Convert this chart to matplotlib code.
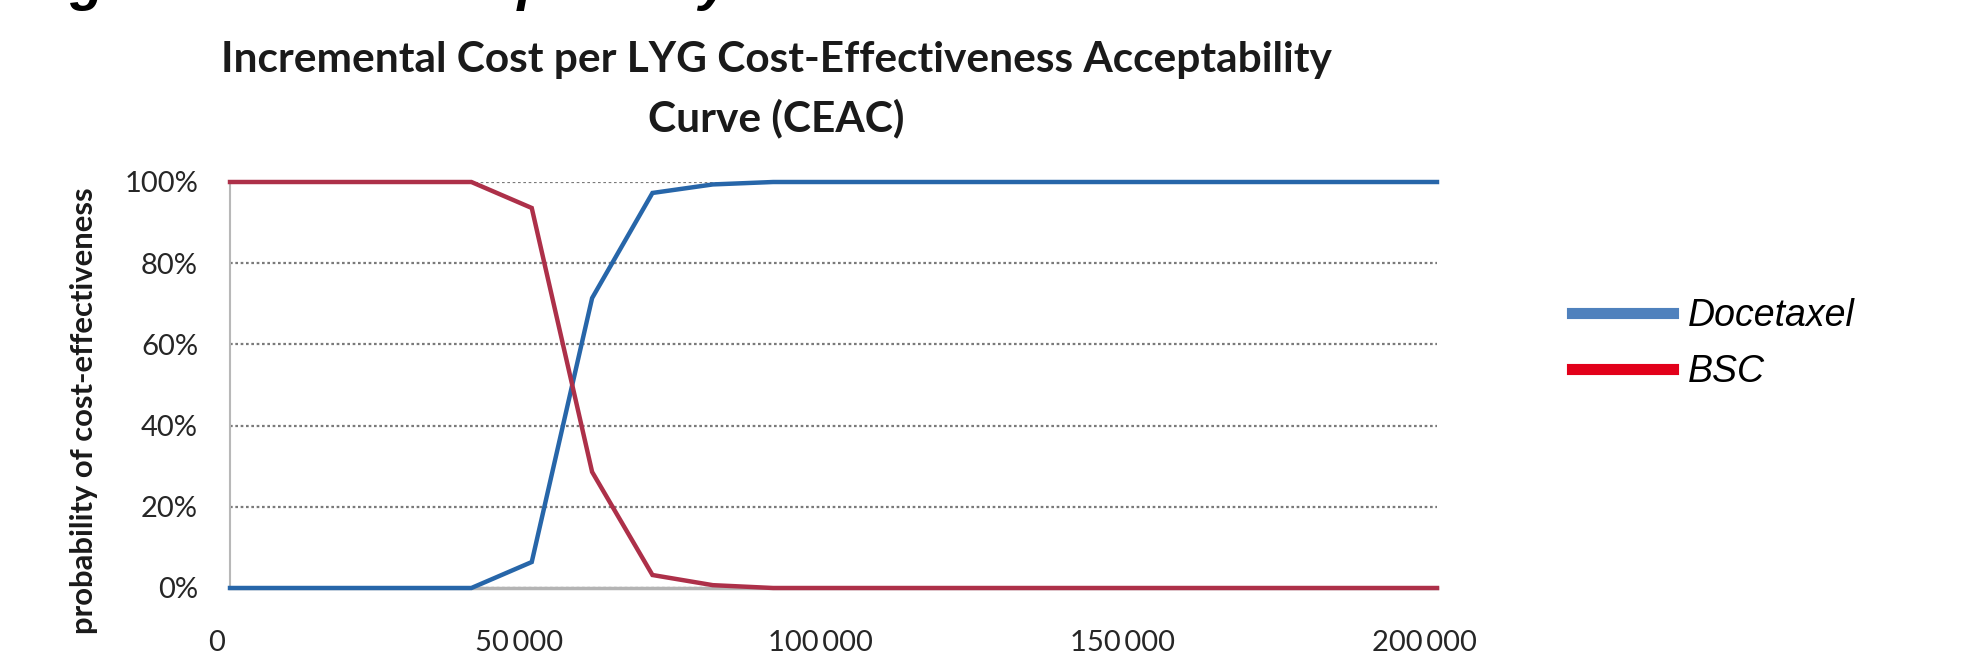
import matplotlib
matplotlib.use("Agg")
import matplotlib.pyplot as plt
import matplotlib.transforms as mtransforms
from matplotlib.lines import Line2D
from matplotlib.ticker import FuncFormatter

# ---- data ----
wtp = [0, 10000, 20000, 30000, 40000, 50000, 60000, 70000, 80000, 90000,
       100000, 110000, 120000, 130000, 140000, 150000, 160000, 170000,
       180000, 190000, 200000]
docetaxel = [0.0, 0.0, 0.0, 0.0, 0.0, 0.064, 0.714, 0.973, 0.994, 1.0,
             1.0, 1.0, 1.0, 1.0, 1.0, 1.0, 1.0, 1.0, 1.0, 1.0, 1.0]
bsc = [1.0, 1.0, 1.0, 1.0, 1.0, 0.936, 0.286, 0.032, 0.007, 0.0,
       0.0, 0.0, 0.0, 0.0, 0.0, 0.0, 0.0, 0.0, 0.0, 0.0, 0.0]
series_names = ["Docetaxel", "BSC"]
x_ticks = [0, 50000, 100000, 150000, 200000]
y_ticks = [0, 0.2, 0.4, 0.6, 0.8, 1.0]
title = "Incremental Cost per LYG Cost-Effectiveness Acceptability\nCurve (CEAC)"
ylabel = "probability of cost-effectiveness"
caption = "Figure 14: CE acceptability curve"

W, H = 1970, 671
fig = plt.figure(figsize=(W / 100, H / 100), dpi=100)
fig.patch.set_facecolor("white")

left, right, bottom, top = 230, 1437, 588, 182
ax = fig.add_axes([left / W, 1 - bottom / H, (right - left) / W, (bottom - top) / H])

line_blue = "#2766a9"
line_red = "#ad3049"
ax.plot(wtp, docetaxel, color=line_blue, lw=3.2, clip_on=False, zorder=4,
        solid_joinstyle="miter")
ax.plot(wtp, bsc, color=line_red, lw=3.2, clip_on=False, zorder=4,
        solid_joinstyle="miter")

ax.set_xlim(0, 200000)
ax.set_ylim(0, 1)
ax.set_xticks(x_ticks)
ax.set_yticks(y_ticks)
ax.xaxis.set_major_formatter(FuncFormatter(lambda v, p: f"{int(v):,}".replace(",", "\u2009")))
ax.yaxis.set_major_formatter(FuncFormatter(lambda v, p: f"{int(round(v * 100))}%"))

for s in ["top", "right"]:
    ax.spines[s].set_visible(False)
ax.spines["left"].set_color("#b8b8b8")
ax.spines["left"].set_linewidth(1.5)
ax.spines["bottom"].set_color("#b4b4b4")
ax.spines["bottom"].set_linewidth(2.5)

ax.yaxis.grid(True, color="#7a7a7a", linestyle=(0, (1.2, 1.2)), linewidth=1.6)
ax.set_axisbelow(True)
ax.tick_params(axis="both", length=0)
ax.tick_params(axis="y", pad=23, labelsize=21, labelcolor="#262626")
ax.tick_params(axis="x", pad=30, labelsize=21, labelcolor="#262626")
for lab in ax.get_yticklabels() + ax.get_xticklabels():
    lab.set_fontfamily("Lato")

offset = mtransforms.ScaledTranslation(-13 / 100, 0, fig.dpi_scale_trans)
for lab in ax.get_xticklabels():
    lab.set_transform(lab.get_transform() + offset)

fig.text(776 / W, 1 - 90 / H, title, ha="center", va="center", fontsize=30.5,
         fontweight="bold", family="Lato", color="#1a1a1a", linespacing=1.6)

fig.text(84 / W, 1 - 411 / H, ylabel, rotation=90, ha="center", va="center",
         fontsize=22.3, fontweight="bold", family="Lato", color="#1a1a1a")

fig.text(21 / W, 1 + 1 / H, caption, ha="left", va="baseline", fontsize=40,
         fontweight="bold", fontstyle="italic", family="Liberation Sans", color="black")

handles = [Line2D([0], [0], color="#4f81bd", lw=8),
           Line2D([0], [0], color="#e2001a", lw=8)]
leg = fig.legend(handles, series_names, loc="upper left",
                 bbox_to_anchor=(1538 / W, 1 - 264 / H), frameon=False,
                 prop={"family": "Liberation Sans", "style": "italic", "size": 27},
                 handlelength=2.7, handletextpad=0.4, labelspacing=0.55)

fig.savefig("out.png", dpi=100)
